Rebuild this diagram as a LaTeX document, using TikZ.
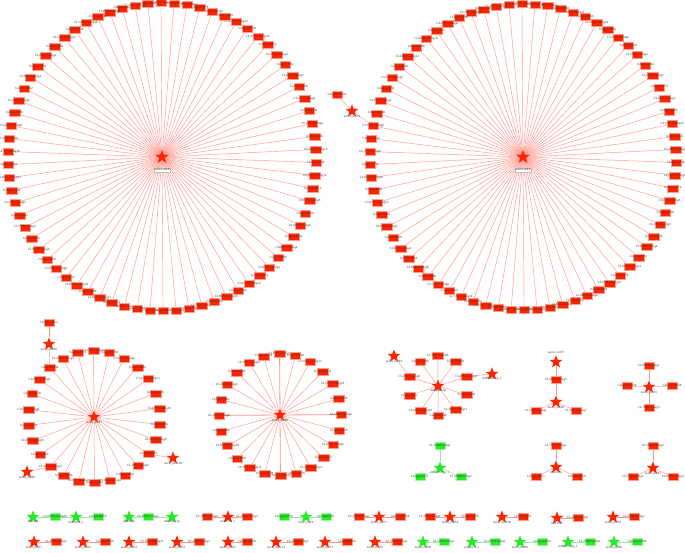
\documentclass[tikz,border=0pt]{standalone}
\usepackage{fontspec}
\setmainfont{Liberation Serif}
\usetikzlibrary{shapes.geometric,calc}
\pgfdeclarelayer{back}
\pgfdeclarelayer{bg}
\pgfsetlayers{back,bg,main}
\definecolor{nred}{RGB}{255,36,0}
\definecolor{ngreen}{RGB}{40,235,40}
\definecolor{ered}{RGB}{255,150,140}
\definecolor{egreen}{RGB}{150,235,150}
\definecolor{ltxt}{RGB}{50,50,50}
\tikzset{
 rbox/.style={rectangle, fill=nred, draw=nred!45!white, line width=0.3pt, minimum width=10.5pt, minimum height=7pt, inner sep=0pt},
 gbox/.style={rbox, fill=ngreen, draw=ngreen!45!white},
 rstar/.style={star, star points=5, star point ratio=2.4, fill=nred, draw=none, minimum size=13.5pt, inner sep=0pt},
 gstar/.style={rstar, fill=ngreen},
 lab/.style={font=\fontsize{3.2}{3.6}\selectfont, text=ltxt, inner sep=0pt},
 slab/.style={lab, label distance=0.6pt},
 clab/.style={lab, fill=white, draw=gray!50, line width=0.2pt, inner sep=1pt},
 re/.style={draw=ered, line width=0.45pt},
 ge/.style={draw=egreen, line width=0.45pt},
}
% ring of boxes around a star: #1 prefix, #2 centre node, #3 count, #4 radius, #5 seed, #6 thick modulus (0 = none)
\newcommand\ringof[6]{%
  \pgfmathtruncatemacro\nmax{#3-1}%
  \pgfmathsetmacro\astep{360/#3}%
  \foreach \k in {0,...,\nmax}{%
    \pgfmathsetmacro\ang{90.4+\k*\astep}%
    \pgfmathtruncatemacro\na{mod(\k*137+#5,8900)+1000}%
    \pgfmathtruncatemacro\nb{mod(\k*7+#5,12)+1}%
    \pgfmathtruncatemacro\thk{(#6>0)*(mod(\k,max(#6,1))==0)}%
    \ifodd\k\relax\edef\lab{Unigene\na}\else\edef\lab{CL\na.Contig\nb}\fi
    \ifnum\thk=1 \def\ew{0.8pt}\else\def\ew{0.45pt}\fi
    \node[rbox,label={[lab]center:\lab}] (#1\k) at ($(#2.center)+({#4*cos(\ang)},{-#4*sin(\ang)})$) {};
    \begin{pgfonlayer}{bg}\draw[re,line width=\ew] (#2) -- (#1\k);\end{pgfonlayer}%
  }}
% star + box pair: #1 id, #2 star style, #3 box style, #4 edge style, #5 star x, #6 box x, #7 y, #8 star label, #9 box label
\newcommand\spair[9]{%
  \node[#2, label={[slab]below:#8}] (#1s) at (#5,#7) {};
  \node[#3, label={[lab]center:#9}] (#1b) at (#6,#7) {};
  \begin{pgfonlayer}{bg}\draw[#4] (#1s) -- (#1b);\end{pgfonlayer}}
\begin{document}
\begin{tikzpicture}[x=1pt,y=-1pt]
\useasboundingbox (0,0) rectangle (685,553);
\begin{pgfonlayer}{back}\fill[white] (0,0) rectangle (685,553);\end{pgfonlayer}

% ---- big circle 1
\node[rstar, minimum size=15pt] (A) at (162,157) {};
\node[clab] (Alab) at (162,170) {novel\_mir8};
\ringof{a}{A}{74}{154}{1251}{0}

% ---- big circle 2
\node[rstar, minimum size=15pt] (B) at (523,157) {};
\node[clab] (Blab) at (523,170) {novel\_mir6};
\ringof{c}{B}{74}{153}{2113}{0}

% ---- novel_mir76
\node[rstar, label={[slab]below:novel\_mir76}] (M76) at (352,111) {};
\node[rbox, label={[lab]center:Unigene27786}] (M76b) at (337,95) {};
\begin{pgfonlayer}{bg}
\draw[re] (M76) -- (M76b);
\draw[re] (M76) -- (c16);
\end{pgfonlayer}

% ---- cluster novel_mir87
\node[rstar, label={[slab]below:novel\_mir87}] (D) at (94,417) {};
\ringof{d}{D}{26}{66}{733}{0}
\node[rstar, label={[slab]below:novel\_mir90}] (E1) at (49,344) {};
\node[rbox, label={[lab]center:Unigene3814}] (E1b) at (49,323) {};
\node[rstar, label={[slab]below:novel\_mir104}] (E2) at (173,458) {};
\node[rstar, label={[slab]below:novel\_mir85}] (E3) at (27,472) {};
\begin{pgfonlayer}{bg}
\draw[re] (E1) -- (E1b);
\draw[re] (E1) -- (d3);
\draw[re] (E2) -- (d17);
\draw[re] (E3) -- (d10);
\end{pgfonlayer}

% ---- cluster novel_mir88
\node[rstar, label={[slab]below:novel\_mir88}] (F) at (280,415) {};
\ringof{f}{F}{24}{61}{1597}{6}

% ---- cluster miR396a-5p
\node[rstar, label={[slab]below:miR396a-5p}] (G) at (438,386) {};
\ringof{g}{G}{10}{30}{2861}{0}
\node[rstar, label={[slab]below:novel\_mir83}] (G1) at (394,356) {};
\node[rstar, label={[slab]below:miR396a-5p\_1}] (G2) at (492,374) {};
\begin{pgfonlayer}{bg}
\draw[re] (G1) -- (g2);
\draw[re] (G2) -- (g8);
\end{pgfonlayer}

% ---- green cluster miR397-5p_1
\node[gstar, label={[slab]below:miR397-5p\_1}] (H) at (440,468) {};
\node[gbox, label={[lab]center:CL1638.Contig1}] (h1) at (440,446) {};
\node[gbox, label={[lab]center:Unigene2271}] (h2) at (420,477) {};
\node[gbox, label={[lab]center:CL3028.Contig2}] (h3) at (461,477) {};
\begin{pgfonlayer}{bg}
\draw[ge] (H) -- (h1); \draw[ge] (H) -- (h2); \draw[ge] (H) -- (h3);
\end{pgfonlayer}

% ---- novel_mir57 / novel_mir58
\node[rstar, label={[slab]above:novel\_mir57}] (I1) at (556,362) {};
\node[rbox, label={[lab]center:CL9874.Contig5}] (i1) at (556,380) {};
\node[rstar, label={[slab]below:novel\_mir58}] (I2) at (556,402) {};
\node[rbox, label={[lab]center:CL5632.Contig1}] (i2) at (536,411) {};
\node[rbox, label={[lab]center:CL1947.Contig7}] (i3) at (576,411) {};
\begin{pgfonlayer}{bg}
\draw[re] (I1) -- (i1); \draw[re] (i1) -- (I2); \draw[re] (I2) -- (i2); \draw[re] (I2) -- (i3);
\end{pgfonlayer}

% ---- novel_mir35
\node[rstar, label={[slab]below:novel\_mir35}] (J) at (649,387) {};
\node[rbox, label={[lab]center:CL9064.Contig1}] (j1) at (649,366) {};
\node[rbox, label={[lab]center:Unigene17334}] (j2) at (627,386) {};
\node[rbox, label={[lab]center:Unigene17448}] (j3) at (672,386) {};
\node[rbox, label={[lab]center:CL1138.Contig3}] (j4) at (649,408) {};
\begin{pgfonlayer}{bg}
\draw[re] (J) -- (j1); \draw[re] (J) -- (j2); \draw[re] (J) -- (j3); \draw[re] (J) -- (j4);
\end{pgfonlayer}

% ---- miR398b
\node[rstar, label={[slab]below:miR398b}] (K) at (556,467) {};
\node[rbox, label={[lab]center:CL7788.Contig1}] (k1) at (556,446) {};
\node[rbox, label={[lab]center:Unigene6875}] (k2) at (536,477) {};
\node[rbox, label={[lab]center:Unigene6618}] (k3) at (577,477) {};
\begin{pgfonlayer}{bg}
\draw[re] (K) -- (k1); \draw[re] (K) -- (k2); \draw[re] (K) -- (k3);
\end{pgfonlayer}

% ---- novel_mir47
\node[rstar, label={[slab]below:novel\_mir47}] (L) at (653,468) {};
\node[rbox, label={[lab]center:CL1060.Contig2}] (l1) at (653,446) {};
\node[rbox, label={[lab]center:CL5016.Contig1}] (l2) at (633,477) {};
\node[rbox, label={[lab]center:CL8023.Contig4}] (l3) at (673,477) {};
\begin{pgfonlayer}{bg}
\draw[re] (L) -- (l1); \draw[re] (L) -- (l2); \draw[re] (L) -- (l3);
\end{pgfonlayer}

% ---- bottom row 1
\spair{ra}{gstar}{gbox}{ge}{33}{55}{517}{miR168}{CL2698.Contig46}
\spair{rb}{gstar}{gbox}{ge}{76}{98}{517}{miR168b\_1}{Unigene8076}
\begin{pgfonlayer}{bg}\draw[ge] (rab) -- (rbs);\end{pgfonlayer}
\spair{rc}{gstar}{gbox}{ge}{129}{148}{517}{miR159a}{CL4965.Contig2}
\node[gstar, label={[slab]below:miR159a-5p}] (rd) at (172,517) {};
\begin{pgfonlayer}{bg}\draw[ge] (rcb) -- (rd);\end{pgfonlayer}
\spair{re}{rstar}{rbox}{re}{228}{207}{517}{miR171a\_1}{CL1988.Contig4}
\node[rbox, label={[lab]center:CL1993.Contig4}] (rf) at (247,517) {};
\begin{pgfonlayer}{bg}\draw[re] (res) -- (rf);\end{pgfonlayer}
\spair{rg}{gstar}{gbox}{ge}{306}{284}{517}{novel\_mir9}{Unigene5729}
\node[gbox, label={[lab]center:Unigene5631}] (rh) at (326,517) {};
\begin{pgfonlayer}{bg}\draw[ge] (rgs) -- (rh);\end{pgfonlayer}
\spair{ri}{rstar}{rbox}{re}{379}{359}{517}{novel\_mir71}{CL1923.Contig1}
\node[rbox, label={[lab]center:Unigene15398}] (rj) at (400,517) {};
\begin{pgfonlayer}{bg}\draw[re] (ris) -- (rj);\end{pgfonlayer}
\spair{rk}{rstar}{rbox}{re}{450}{430}{517}{novel\_mir54}{CL2995.Contig1}
\node[rbox, label={[lab]center:Unigene2028}] (rl) at (470,517) {};
\begin{pgfonlayer}{bg}\draw[re] (rks) -- (rl);\end{pgfonlayer}
\spair{rm}{rstar}{rbox}{re}{502}{523}{517}{novel\_mir100}{Unigene6791}
\spair{rn}{rstar}{rbox}{re}{557}{578}{518}{miR396b}{CL4668.Contig1}
\spair{ro}{rstar}{rbox}{re}{613}{634}{517}{novel\_mir39}{CL6388.Contig2}

% ---- bottom row 2
\spair{sa}{rstar}{rbox}{re}{34}{56}{542}{novel\_mir17}{CL2828.Contig3}
\spair{sb}{rstar}{rbox}{re}{83}{105}{542}{novel\_mir61}{Unigene8606}
\spair{sc}{rstar}{rbox}{re}{129}{152}{542}{novel\_mir33}{CL7064.Contig11}
\spair{sd}{rstar}{rbox}{re}{177}{199}{542}{novel\_mir53}{CL4608.Contig2}
\spair{se}{rstar}{rbox}{re}{228}{247}{542}{novel\_mir67}{Unigene8630}
\spair{sf}{rstar}{rbox}{re}{276}{298}{542}{novel\_mir114}{CL3132.Contig5}
\spair{sg}{rstar}{rbox}{re}{325}{347}{542}{novel\_mir13}{Unigene6406}
\spair{sh}{rstar}{rbox}{re}{375}{397}{542}{novel\_mir50}{CL3922.Contig1}
\spair{si}{gstar}{gbox}{ge}{423}{444}{542}{novel\_mir98}{CL5268.Contig1}
\spair{sj}{gstar}{gbox}{ge}{472}{495}{542}{miR167d\_1}{CL4013.Contig1}
\spair{sk}{gstar}{gbox}{ge}{520}{542}{542}{novel\_mir96}{Unigene3036}
\spair{sl}{gstar}{gbox}{ge}{568}{590}{542}{miR477a-5p\_1}{CL7658.Contig1}
\spair{sm}{gstar}{gbox}{ge}{614}{637}{542}{novel\_mir60}{Unigene14709}
\end{tikzpicture}
\end{document}
